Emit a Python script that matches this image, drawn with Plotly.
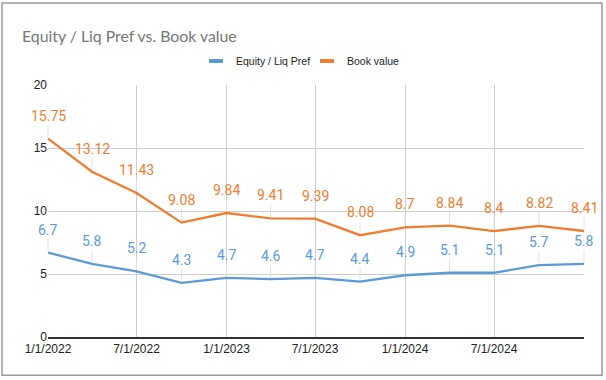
import plotly.graph_objects as go

# ---- data ----
dates = ["2022-01-01", "2022-04-01", "2022-07-01", "2022-10-01",
         "2023-01-01", "2023-04-01", "2023-07-01", "2023-10-01",
         "2024-01-01", "2024-04-01", "2024-07-01", "2024-10-01",
         "2025-01-01"]
equity_liq_pref = [6.7, 5.8, 5.2, 4.3, 4.7, 4.6, 4.7, 4.4, 4.9, 5.1, 5.1, 5.7, 5.8]
book_value = [15.75, 13.12, 11.43, 9.08, 9.84, 9.41, 9.39, 8.08, 8.7, 8.84, 8.4, 8.82, 8.41]

series_names = ["Equity / Liq Pref", "Book value"]
colors = ["#5B9BD5", "#ED7D31"]

x_tickvals = ["2022-01-01", "2022-07-01", "2023-01-01", "2023-07-01",
              "2024-01-01", "2024-07-01", "2025-01-01"]
x_ticktext = ["1/1/2022", "7/1/2022", "1/1/2023", "7/1/2023",
              "1/1/2024", "7/1/2024", ""]
y_tickvals = [0, 5, 10, 15, 20]

fig = go.Figure()

for name, vals, col in zip(series_names, [equity_liq_pref, book_value], colors):
    fig.add_trace(go.Scatter(x=dates, y=vals, mode="lines", name=name,
                             line=dict(color=col, width=2.3),
                             showlegend=False, hoverinfo="x+y"))
    # legend key (short thick dash)
    fig.add_trace(go.Scatter(x=[None], y=[None], mode="markers", name=name,
                             marker=dict(symbol="line-ew", size=10,
                                         line=dict(color=col, width=4)),
                             showlegend=True))
    for d, v in zip(dates, vals):
        fig.add_annotation(x=d, y=v, text=f"{v:g}", showarrow=True,
                           arrowhead=0, arrowwidth=1, arrowcolor="#e0e0e0",
                           ax=0, ay=-23, standoff=2,
                           font=dict(family="Roboto", size=14, color=col))

# border around chart
fig.add_shape(type="rect", xref="paper", yref="paper",
              x0=-0.0858, x1=1.0336, y0=-0.152, y1=1.325,
              line=dict(color="#9a9a9a", width=1.5), layer="below")

fig.update_layout(
    width=606, height=380,
    margin=dict(l=48, r=22, t=85, b=43),
    paper_bgcolor="white", plot_bgcolor="white",
    title=dict(text="Equity / Liq Pref vs. Book value",
               x=22 / 606, xanchor="left", xref="container",
               y=1 - 36 / 380, yanchor="middle", yref="container",
               font=dict(family="Lato", size=15.8, color="#757575")),
    legend=dict(orientation="h", x=(196 - 48) / 536, xanchor="left", y=1.095, yanchor="middle",
                font=dict(family="Liberation Sans", size=10.5, color="#222222"),
                itemwidth=30, entrywidth=66, bgcolor="rgba(0,0,0,0)"),
    xaxis=dict(type="date", range=["2022-01-01", "2025-01-01"],
               tickvals=x_tickvals, ticktext=x_ticktext,
               showgrid=True, gridcolor="#cccccc", gridwidth=1,
               showline=True, linecolor="#333333", linewidth=1.5,
               ticks="", tickfont=dict(family="Liberation Sans", size=12, color="#222222"),
               zeroline=False),
    yaxis=dict(range=[0, 20], tickvals=y_tickvals,
               showgrid=True, gridcolor="#cccccc", gridwidth=1,
               zeroline=False, showline=False, ticks="",
               tickfont=dict(family="Liberation Sans", size=12, color="#222222")),
)

fig.write_html("out.html", config={"displayModeBar": False},
               post_script="document.body.style.margin='0';document.body.style.padding='0';")
